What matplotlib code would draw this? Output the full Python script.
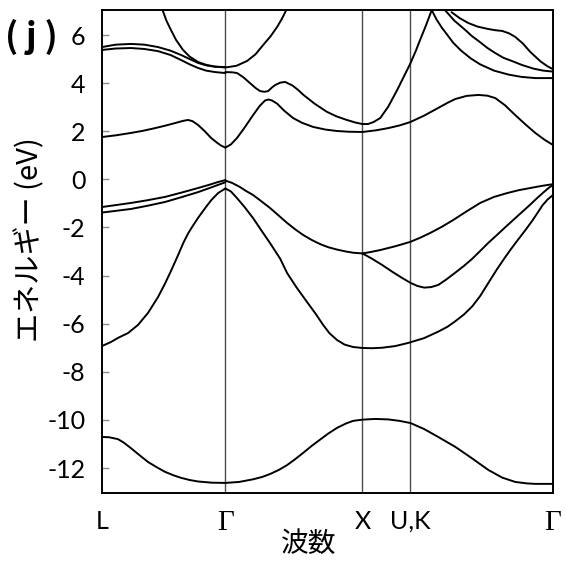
import matplotlib
matplotlib.use("Agg")
import matplotlib.pyplot as plt

plt.rcParams['font.family'] = ['Lato', 'Noto Sans CJK JP', 'DejaVu Sans']
plt.rcParams['axes.unicode_minus'] = False

# high symmetry points
kpts = [0, 0.9, 1.9, 2.25, 3.29]
klabels = ['L', 'Γ', 'X', 'U,K', 'Γ']
yticks = [6, 4, 2, 0, -2, -4, -6, -8, -10, -12]

# bands (k, energy in eV)
s_k = [0, 0.05, 0.117, 0.16, 0.21, 0.27, 0.336, 0.40, 0.46, 0.52, 0.577, 0.64, 0.70, 0.80, 0.9,
       1.0, 1.102, 1.17, 1.23, 1.29, 1.35, 1.41, 1.47, 1.53, 1.591, 1.65, 1.715, 1.78, 1.832, 1.9,
       1.993, 2.088, 2.17, 2.25, 2.35, 2.453, 2.577, 2.70, 2.818, 2.92, 3.015, 3.10, 3.161, 3.29]
s_e = [-10.71, -10.72, -10.8, -10.95, -11.17, -11.45, -11.75, -11.97, -12.16, -12.3, -12.41, -12.5, -12.56, -12.61, -12.62,
       -12.58, -12.47, -12.37, -12.24, -12.08, -11.88, -11.63, -11.36, -11.08, -10.82, -10.57, -10.33, -10.15, -10.04, -9.99,
       -9.96, -9.98, -10.04, -10.13, -10.38, -10.71, -11.12, -11.6, -12.08, -12.4, -12.58, -12.64, -12.66, -12.66]

vb1_k = [0, 0.066, 0.117, 0.19, 0.263, 0.336, 0.409, 0.46, 0.504, 0.555, 0.595, 0.628, 0.664, 0.701,
         0.752, 0.796, 0.847, 0.883, 0.9]
vb1_e = [-6.93, -6.76, -6.59, -6.39, -6.05, -5.55, -4.89, -4.33, -3.8, -3.15, -2.62, -2.25, -1.92, -1.6,
         -1.2, -0.87, -0.57, -0.44, -0.38]

vb_lg_up_k = [0, 0.1, 0.212, 0.33, 0.46, 0.58, 0.701, 0.78, 0.847, 0.9]
vb_lg_up_e = [-1.15, -1.07, -0.98, -0.87, -0.73, -0.55, -0.36, -0.23, -0.11, -0.03]
vb_lg_lo_k = [0, 0.1, 0.212, 0.33, 0.46, 0.58, 0.701, 0.78, 0.847, 0.9]
vb_lg_lo_e = [-1.38, -1.31, -1.23, -1.1, -0.94, -0.74, -0.53, -0.37, -0.23, -0.12]

vb_gx_lo_k = [0.9, 0.94, 0.985, 1.04, 1.102, 1.16, 1.226, 1.30, 1.35, 1.42, 1.496, 1.56, 1.613, 1.66,
              1.715, 1.77, 1.832, 1.9]
vb_gx_lo_e = [-0.38, -0.5, -0.78, -1.15, -1.61, -2.1, -2.65, -3.3, -3.89, -4.5, -5.1, -5.6, -6.05, -6.4,
              -6.68, -6.87, -6.97, -7.01]
vb_gx_up_k = [0.9, 0.95, 1.007, 1.05, 1.102, 1.16, 1.226, 1.30, 1.35, 1.41, 1.467, 1.53, 1.591, 1.65,
              1.715, 1.78, 1.832, 1.9]
vb_gx_up_e = [-0.05, -0.15, -0.32, -0.48, -0.65, -0.9, -1.19, -1.56, -1.81, -2.08, -2.31, -2.52, -2.69, -2.82,
              -2.92, -3.0, -3.05, -3.08]

vb_xg_lo_k = [1.9, 1.97, 2.044, 2.14, 2.234, 2.35, 2.453, 2.52, 2.577, 2.64, 2.701, 2.76, 2.818, 2.88,
              2.942, 2.99, 3.036, 3.09, 3.139, 3.18, 3.212, 3.25, 3.29]
vb_xg_lo_e = [-7.01, -7.02, -7.0, -6.93, -6.8, -6.6, -6.33, -6.13, -5.9, -5.62, -5.28, -4.84, -4.31, -3.75,
              -3.23, -2.85, -2.5, -2.1, -1.72, -1.37, -1.09, -0.84, -0.65]
vb_xg_mid_k = [1.9, 1.97, 2.044, 2.12, 2.19, 2.25, 2.30, 2.35, 2.40, 2.453, 2.51, 2.577, 2.64, 2.701,
               2.76, 2.818, 2.88, 2.94, 3.0, 3.06, 3.124, 3.17, 3.219, 3.26, 3.29]
vb_xg_mid_e = [-3.08, -3.3, -3.56, -3.85, -4.1, -4.3, -4.43, -4.5, -4.48, -4.39, -4.17, -3.88, -3.6, -3.3,
               -2.97, -2.64, -2.32, -2.0, -1.69, -1.38, -1.05, -0.8, -0.55, -0.35, -0.23]
vb_xg_up_k = [1.9, 1.96, 2.029, 2.14, 2.248, 2.32, 2.394, 2.48, 2.562, 2.66, 2.759, 2.86, 2.956, 3.04,
              3.124, 3.21, 3.29]
vb_xg_up_e = [-3.08, -3.02, -2.94, -2.78, -2.6, -2.43, -2.23, -1.97, -1.69, -1.33, -0.98, -0.73, -0.57, -0.45,
              -0.36, -0.27, -0.2]

cb_lg_k = [0, 0.1, 0.212, 0.30, 0.387, 0.46, 0.533, 0.59, 0.628, 0.66, 0.701, 0.75, 0.796, 0.84, 0.87, 0.9]
cb_lg_e = [1.76, 1.83, 1.93, 2.02, 2.13, 2.23, 2.34, 2.43, 2.47, 2.42, 2.26, 2.0, 1.72, 1.52, 1.4, 1.32]
cb_gx_k = [0.9, 0.94, 0.985, 1.04, 1.102, 1.15, 1.19, 1.215, 1.24, 1.277, 1.33, 1.394, 1.46, 1.54,
           1.63, 1.715, 1.8, 1.9]
cb_gx_e = [1.32, 1.45, 1.72, 2.15, 2.67, 3.05, 3.28, 3.32, 3.28, 3.15, 2.85, 2.55, 2.35, 2.18,
           2.07, 2.01, 1.98, 1.97]
cb_xg_k = [1.9, 2.0, 2.088, 2.17, 2.248, 2.35, 2.453, 2.52, 2.577, 2.66, 2.745, 2.81, 2.869, 2.94,
           3.015, 3.09, 3.161, 3.23, 3.29]
cb_xg_e = [1.97, 2.04, 2.13, 2.24, 2.38, 2.65, 2.97, 3.18, 3.34, 3.47, 3.51, 3.48, 3.38, 3.08,
           2.67, 2.28, 1.93, 1.64, 1.43]

cb2_gx_k = [0.9, 0.95, 0.985, 1.03, 1.08, 1.12, 1.153, 1.185, 1.212, 1.24, 1.263, 1.30, 1.336, 1.39,
            1.43, 1.47, 1.55, 1.64, 1.71, 1.786, 1.85, 1.9]
cb2_gx_e = [4.46, 4.45, 4.42, 4.25, 4.0, 3.8, 3.67, 3.64, 3.67, 3.82, 3.92, 4.02, 4.05, 3.9,
            3.72, 3.51, 3.15, 2.81, 2.62, 2.47, 2.36, 2.3]
cb2_xu_k = [1.9, 1.94, 1.98, 2.03, 2.088, 2.153, 2.2, 2.248, 2.29, 2.32, 2.36, 2.41]
cb2_xu_e = [2.3, 2.3, 2.38, 2.55, 3.02, 3.71, 4.25, 4.8, 5.35, 5.79, 6.35, 7.1]

cb_lg_up_k = [0, 0.1, 0.212, 0.31, 0.409, 0.50, 0.577, 0.64, 0.701, 0.76, 0.825, 0.9]
cb_lg_up_e = [5.5, 5.6, 5.63, 5.6, 5.5, 5.35, 5.17, 5.0, 4.84, 4.74, 4.68, 4.67]
cb_lg_lo_k = [0, 0.1, 0.212, 0.31, 0.409, 0.50, 0.577, 0.64, 0.701, 0.76, 0.825, 0.9]
cb_lg_lo_e = [5.38, 5.44, 5.46, 5.42, 5.33, 5.17, 4.96, 4.78, 4.63, 4.52, 4.46, 4.42]

par_k = [0.438, 0.47, 0.496, 0.54, 0.591, 0.64, 0.701, 0.76, 0.825, 0.9, 0.98, 1.058, 1.12, 1.175,
         1.23, 1.277, 1.31, 1.35]
par_e = [7.1, 6.6, 6.29, 5.8, 5.38, 5.1, 4.88, 4.76, 4.69, 4.65, 4.72, 4.92, 5.2, 5.58,
         5.95, 6.33, 6.65, 7.1]

t1_k = [2.40, 2.44, 2.48, 2.52, 2.562, 2.62, 2.69, 2.759, 2.86, 2.97, 3.06, 3.161, 3.29]
t1_e = [7.1, 6.65, 6.3, 6.0, 5.68, 5.35, 5.03, 4.78, 4.52, 4.35, 4.26, 4.21, 4.21]
t2_k = [2.50, 2.57, 2.65, 2.70, 2.759, 2.81, 2.869, 2.93, 3.0, 3.066, 3.15, 3.22, 3.29]
t2_e = [7.05, 6.6, 6.21, 5.95, 5.7, 5.47, 5.25, 5.05, 4.9, 4.75, 4.6, 4.52, 4.48]
t3_k = [2.55, 2.61, 2.672, 2.74, 2.818, 2.87, 2.92, 2.97, 3.015, 3.07, 3.124, 3.2, 3.25, 3.29]
t3_e = [6.95, 6.7, 6.5, 6.35, 6.25, 6.2, 6.17, 6.07, 5.92, 5.65, 5.3, 4.9, 4.7, 4.58]

bands = [(s_k, s_e), (vb1_k, vb1_e), (vb_lg_up_k, vb_lg_up_e), (vb_lg_lo_k, vb_lg_lo_e),
         (vb_gx_lo_k, vb_gx_lo_e), (vb_gx_up_k, vb_gx_up_e), (vb_xg_lo_k, vb_xg_lo_e),
         (vb_xg_mid_k, vb_xg_mid_e), (vb_xg_up_k, vb_xg_up_e), (cb_lg_k, cb_lg_e),
         (cb_gx_k, cb_gx_e), (cb_xg_k, cb_xg_e), (cb2_gx_k, cb2_gx_e), (cb2_xu_k, cb2_xu_e),
         (cb_lg_up_k, cb_lg_up_e), (cb_lg_lo_k, cb_lg_lo_e), (par_k, par_e),
         (t1_k, t1_e), (t2_k, t2_e), (t3_k, t3_e)]

fig = plt.figure(figsize=(5.66, 5.63), dpi=100)
ax = fig.add_axes([0.1802, 0.1243, 0.7968, 0.8579])

for k in kpts[1:-1]:
    ax.axvline(k, color='0.3', lw=1.0, zorder=1)

for bk, be in bands:
    ax.plot(bk, be, color='black', lw=1.4, solid_joinstyle='round', solid_capstyle='round', zorder=2)

ax.set_xlim(kpts[0], kpts[-1])
ax.set_ylim(-13.04, 7.04)
for sp in ax.spines.values():
    sp.set_linewidth(1.4)

ax.set_xticks(kpts)
ax.set_xticklabels(klabels, fontsize=18)
for lab in ax.get_xticklabels():
    if lab.get_text() == 'Γ':
        lab.set_fontfamily('Liberation Serif')
        lab.set_fontsize(21)
ax.tick_params(axis='x', length=0, pad=12)

ax.set_yticks(yticks)
ax.set_yticklabels([str(v) for v in yticks], fontsize=18)
ax.tick_params(axis='y', direction='in', length=5, width=1, color='0.55', pad=12)

ax.set_ylabel('エネルギー (eV)', fontsize=21, family=['Noto Sans CJK JP'], va='center')
ax.yaxis.set_label_coords(-0.159, 0.524)
ax.set_xlabel('波数', fontsize=20, family=['Noto Sans CJK JP'], va='center')
ax.xaxis.set_label_coords(0.459, -0.106)

fig.text(0.056, 0.934, '( j )', fontsize=25, fontweight='bold', ha='center', va='center',
         family=['Noto Sans CJK JP'])

fig.savefig('out.png', dpi=100)
